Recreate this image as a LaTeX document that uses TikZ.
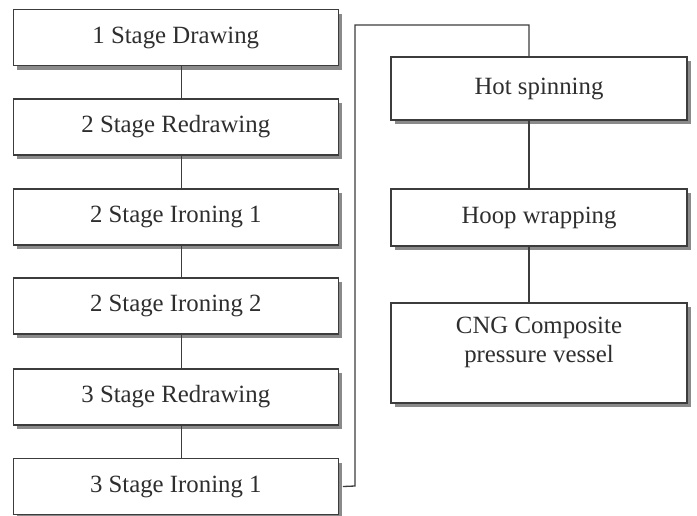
\documentclass[tikz,border=0pt]{standalone}
\usepackage{fontspec}
\setmainfont{Liberation Serif}
\usetikzlibrary{shadows}
\definecolor{linec}{HTML}{3C3C3C}
\definecolor{textc}{HTML}{2E2E2E}
\definecolor{shadc}{HTML}{8A8A8A}
\tikzset{
  x=1pt, y=1pt,
  stepbox/.style={draw=linec, line width=1.3pt, fill=white, text=textc,
    font=\fontsize{24.8}{29}\selectfont, align=center, inner sep=0pt,
    drop shadow={shadow xshift=4pt, shadow yshift=-4pt, fill=shadc, opacity=1}},
  lbox/.style={stepbox, minimum width=325pt, minimum height=56pt},
  rbox/.style={stepbox, minimum width=296pt},
  conn/.style={draw=linec, line width=1.3pt}
}
\begin{document}
\begin{tikzpicture}
\useasboundingbox (0,0) rectangle (697,-515);
\node[lbox] (b1) at (175.8,-37.5) {1 Stage Drawing};
\node[lbox] (b2) at (175.8,-127) {2 Stage Redrawing};
\node[lbox] (b3) at (175.8,-217) {2 Stage Ironing 1};
\node[lbox] (b4) at (175.8,-306) {2 Stage Ironing 2};
\node[lbox] (b5) at (175.8,-397) {3 Stage Redrawing};
\node[lbox] (b6) at (175.8,-486.5) {3 Stage Ironing 1};
\node[rbox, minimum height=63pt] (hs) at (539,-88.5) {Hot spinning};
\node[rbox, minimum height=57pt] (hw) at (539,-217.5) {Hoop wrapping};
\node[rbox, minimum height=100pt] (cng) at (539,-353) {};
\node[text=textc, font=\fontsize{24.8}{29}\selectfont, align=center, inner sep=0pt] (cngt) at (539,-342) {CNG Composite\\pressure vessel};
\coordinate (c1) at (355,-486);
\coordinate (c2) at (355,-25);
\coordinate (c3) at (529,-25);
\draw[conn] ([xshift=6pt]b1.south) -- ([xshift=6pt]b2.north);
\draw[conn] ([xshift=6pt]b2.south) -- ([xshift=6pt]b3.north);
\draw[conn] ([xshift=6pt]b3.south) -- ([xshift=6pt]b4.north);
\draw[conn] ([xshift=6pt]b4.south) -- ([xshift=6pt]b5.north);
\draw[conn] ([xshift=6pt]b5.south) -- ([xshift=6pt]b6.north);
\draw[conn] ([xshift=4pt]b6.east) -- (c1) -- (c2) -- (c3) -- (c3 |- hs.north);
\draw[conn] ([xshift=-10pt]hs.south) -- ([xshift=-10pt]hw.north);
\draw[conn] ([xshift=-10pt]hw.south) -- ([xshift=-10pt]cng.north);
\end{tikzpicture}
\end{document}
